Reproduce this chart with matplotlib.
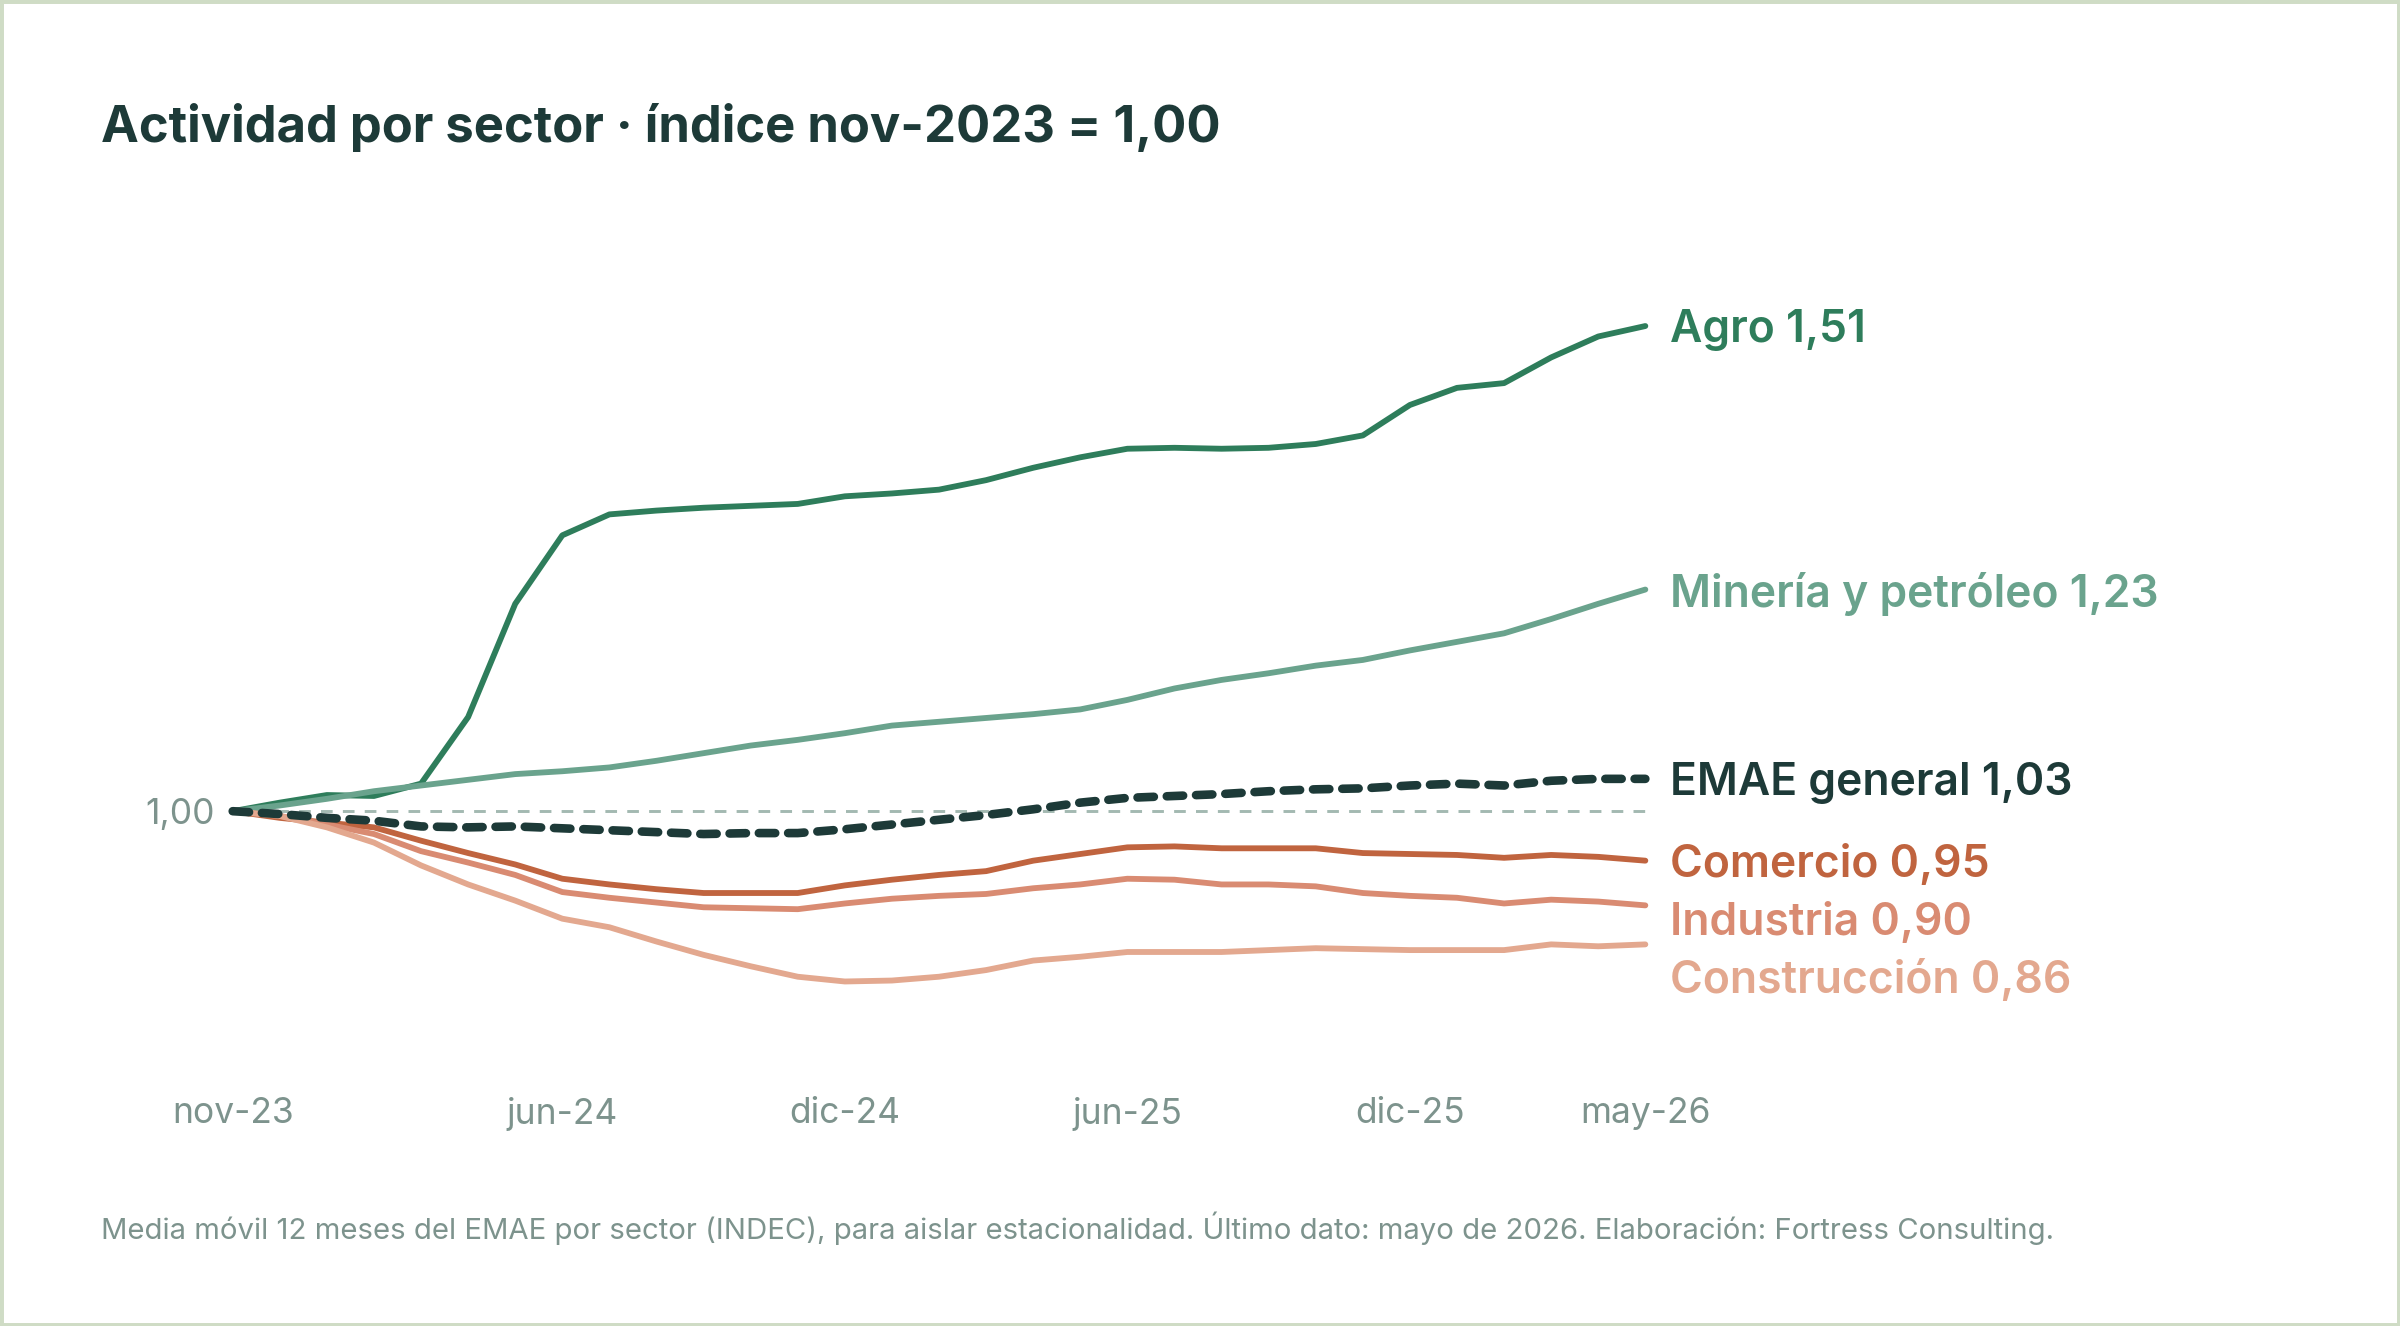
"""Actividad por sector, índice nov-2023 = 1,00 (media móvil 12 meses)."""

import matplotlib

matplotlib.use("Agg")
import matplotlib.pyplot as plt
import pandas as pd
from matplotlib.patches import Rectangle

plt.rcParams["font.family"] = ["Inter", "DejaVu Sans"]

# Months nov-23 .. may-26
MESES_ES = ["ene", "feb", "mar", "abr", "may", "jun", "jul", "ago", "sep", "oct", "nov", "dic"]
months = pd.period_range("2023-11", "2026-05", freq="M")
month_labels = [f"{MESES_ES[p.month - 1]}-{p.year % 100:02d}" for p in months]
tick_labels = ["nov-23", "jun-24", "dic-24", "jun-25", "dic-25", "may-26"]

sectors = ["Agro", "Minería y petróleo", "EMAE general", "Comercio", "Industria", "Construcción"]

agro = [1.000, 1.009, 1.017, 1.016, 1.029, 1.099, 1.218, 1.290, 1.312, 1.316,
        1.319, 1.321, 1.323, 1.331, 1.334, 1.338, 1.348, 1.361, 1.372, 1.381,
        1.382, 1.381, 1.382, 1.386, 1.395, 1.427, 1.445, 1.450, 1.477, 1.499, 1.510]
mineria = [1.000, 1.006, 1.013, 1.021, 1.027, 1.033, 1.039, 1.042, 1.046, 1.053,
           1.061, 1.069, 1.075, 1.082, 1.090, 1.094, 1.098, 1.102, 1.107, 1.117,
           1.129, 1.138, 1.145, 1.153, 1.159, 1.169, 1.178, 1.187, 1.202, 1.218, 1.233]
emae = [1.000, 0.997, 0.993, 0.990, 0.984, 0.983, 0.984, 0.982, 0.980, 0.978,
        0.976, 0.977, 0.977, 0.981, 0.986, 0.991, 0.996, 1.002, 1.009, 1.014,
        1.016, 1.018, 1.021, 1.023, 1.024, 1.027, 1.029, 1.027, 1.032, 1.034, 1.034]
comercio = [1.000, 0.993, 0.988, 0.983, 0.969, 0.956, 0.944, 0.929, 0.923, 0.918,
            0.914, 0.914, 0.914, 0.922, 0.928, 0.933, 0.937, 0.948, 0.955, 0.962,
            0.963, 0.961, 0.961, 0.961, 0.956, 0.955, 0.954, 0.951, 0.954, 0.952, 0.948]
industria = [1.000, 0.995, 0.986, 0.976, 0.958, 0.946, 0.933, 0.915, 0.909, 0.904,
             0.899, 0.898, 0.897, 0.903, 0.908, 0.911, 0.913, 0.919, 0.923, 0.929,
             0.928, 0.923, 0.923, 0.921, 0.914, 0.911, 0.909, 0.903, 0.907, 0.905, 0.901]
construccion = [1.000, 0.995, 0.983, 0.967, 0.943, 0.923, 0.906, 0.887, 0.878, 0.863,
                0.849, 0.837, 0.826, 0.821, 0.822, 0.826, 0.833, 0.843, 0.847, 0.852,
                0.852, 0.852, 0.854, 0.856, 0.855, 0.854, 0.854, 0.854, 0.860, 0.858, 0.860]

series = [agro, mineria, emae, comercio, industria, construccion]
colors = ["#2e7d5b", "#6aa38d", "#1d3a38", "#c0643f", "#d98b72", "#e3a88f"]

TITLE_COLOR = "#1d3a38"
MUTED = "#7d938d"
BORDER = "#cfdcc5"

fig = plt.figure(figsize=(24, 13.26), dpi=100)
fig.patch.set_facecolor("white")
fig.patches.append(
    Rectangle((0, 0), 1, 1, transform=fig.transFigure, fill=False,
              edgecolor=BORDER, linewidth=5, zorder=10)
)

ax = fig.add_axes([0.09696, 0.2304, 0.5886, 0.5596])
x = list(range(len(months)))

# Reference line at 1.00
ax.plot([x[0], x[-1]], [1.0, 1.0], color="#a3b9b1", linewidth=2.1,
        dashes=(4, 3.5), zorder=1, clip_on=False)

for name, vals, color in zip(sectors, series, colors):
    if name == "EMAE general":
        ax.plot(x, vals, color=color, linewidth=6.2, dashes=(1.9, 1.5),
                dash_capstyle="round", zorder=4, clip_on=False)
    else:
        ax.plot(x, vals, color=color, linewidth=4.2, solid_capstyle="round",
                solid_joinstyle="round", zorder=3, clip_on=False)

# End labels, pushed down so they do not overlap
gap = 0.061
label_y = []
for vals in series:
    y = vals[-1]
    if label_y and label_y[-1] - y < gap:
        y = label_y[-1] - gap
    label_y.append(y)

for name, vals, color, ly in zip(sectors, series, colors, label_y):
    txt = f"{name} {vals[-1]:.2f}".replace(".", ",")
    ax.annotate(txt, xy=(x[-1], ly), xytext=(18, -3), textcoords="offset points",
                va="center", ha="left", color=color, fontsize=32,
                fontweight="semibold", annotation_clip=False)

ax.set_xlim(x[0], x[-1])
ax.set_ylim(0.78, 1.56)
ax.set_xticks([month_labels.index(t) for t in tick_labels])
ax.set_xticklabels(tick_labels)
ax.set_yticks([1.0])
ax.set_yticklabels(["1,00"])
ax.tick_params(axis="both", length=0, labelsize=25.5, labelcolor=MUTED)
ax.tick_params(axis="x", pad=55)
ax.tick_params(axis="y", pad=13)
for spine in ax.spines.values():
    spine.set_visible(False)

fig.text(101 / 2400, 1 - 128 / 1326, "Actividad por sector · índice nov-2023 = 1,00",
         fontsize=36.5, fontweight="bold", color=TITLE_COLOR, va="center", ha="left")
fig.text(101 / 2400, 1 - 1228 / 1326,
         "Media móvil 12 meses del EMAE por sector (INDEC), para aislar estacionalidad. "
         "Último dato: mayo de 2026. Elaboración: Fortress Consulting.",
         fontsize=21.1, color=MUTED, va="center", ha="left")

fig.savefig("out.png", dpi=100)
plt.close(fig)
